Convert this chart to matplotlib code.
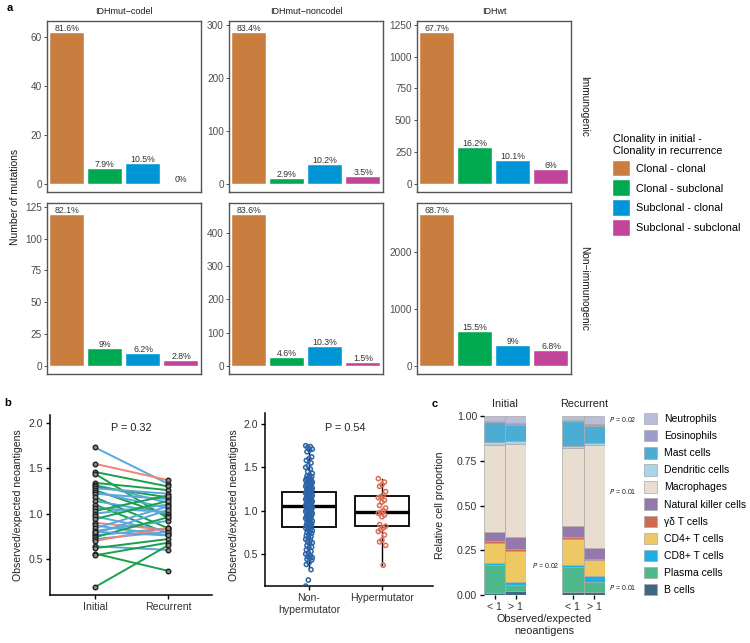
import matplotlib

matplotlib.use("Agg")
import matplotlib.pyplot as plt
from matplotlib.patches import Patch
import numpy as np

plt.rcParams["font.family"] = ["Liberation Sans", "DejaVu Sans"]

W, H = 750, 643

# ---- panel a: clonality of neoantigen mutations ----
SUBTYPES = ["IDHmut\u2212codel", "IDHmut\u2212noncodel", "IDHwt"]
ROW_LABELS = ["Immunogenic", "Non\u2212immunogenic"]
CLONALITY = ["Clonal - clonal", "Clonal - subclonal", "Subclonal - clonal", "Subclonal - subclonal"]
CLONALITY_COLORS = ["#C97E3F", "#00A84F", "#0096D6", "#C1439A"]

immuno_codel = [62, 6, 8, 0]
immuno_noncodel = [286, 10, 35, 12]
immuno_idhwt = [1190, 285, 178, 106]
nonimmuno_codel = [119, 13, 9, 4]
nonimmuno_noncodel = [455, 25, 56, 8]
nonimmuno_idhwt = [2660, 600, 348, 263]

yticks_a = [
    [[0, 20, 40, 60], [0, 100, 200, 300], [0, 250, 500, 750, 1000, 1250]],
    [[0, 25, 50, 75, 100, 125], [0, 100, 200, 300, 400], [0, 1000, 2000]],
]

# ---- panel b: observed/expected neoantigens ----
initial_ratio = [1.73, 1.55, 1.46, 1.44, 1.34, 1.32, 1.30, 1.28, 1.26, 1.24, 1.22, 1.18,
                 1.14, 1.10, 1.06, 1.03, 1.00, 0.97, 0.94, 0.90, 0.87, 0.84, 0.81, 0.78,
                 0.76, 0.74, 0.72, 0.70, 0.64, 0.62, 0.56, 0.54, 0.19, 0.80]
recurrent_ratio = [1.33, 1.37, 1.30, 0.95, 1.26, 1.12, 1.18, 1.22, 0.98, 1.06, 1.16, 0.84,
                   1.00, 0.78, 1.02, 1.20, 1.10, 0.80, 1.14, 0.82, 0.76, 1.08, 0.92, 1.04,
                   0.84, 0.96, 0.80, 0.84, 0.60, 0.72, 0.37, 0.68, 0.65, 0.76]
pair_group = ["b", "s", "g", "g", "g", "b", "g", "b", "g", "b", "b", "g",
              "b", "g", "b", "g", "b", "b", "g", "s", "b", "b", "b", "b",
              "b", "g", "b", "s", "b", "g", "g", "g", "g", "b"]
PAIR_COLORS = {"b": "#5BA6DC", "s": "#F08474", "g": "#19A049"}

nonhyper_ratio = [
    1.75, 1.74, 1.73, 1.71, 1.70, 1.68, 1.62, 1.60, 1.58, 1.55, 1.52, 1.50, 1.48, 1.45,
    1.43, 1.41, 1.40, 1.39, 1.38, 1.37, 1.36, 1.36, 1.35, 1.34, 1.34, 1.33, 1.32, 1.32,
    1.31, 1.30, 1.30, 1.29, 1.28, 1.28, 1.27, 1.26, 1.26, 1.25, 1.24, 1.24, 1.23, 1.22,
    1.22, 1.21, 1.20, 1.20, 1.19, 1.18, 1.18, 1.17, 1.16, 1.16, 1.15, 1.14, 1.14, 1.13,
    1.12, 1.12, 1.11, 1.10, 1.10, 1.09, 1.08, 1.08, 1.07, 1.06, 1.06, 1.05, 1.05, 1.04,
    1.03, 1.03, 1.02, 1.01, 1.01, 1.00, 0.99, 0.99, 0.98, 0.97, 0.97, 0.96, 0.95, 0.95,
    0.94, 0.93, 0.92, 0.92, 0.91, 0.90, 0.89, 0.88, 0.87, 0.86, 0.85, 0.84, 0.83, 0.82,
    0.81, 0.80, 0.79, 0.78, 0.77, 0.76, 0.75, 0.74, 0.72, 0.71, 0.70, 0.68, 0.67, 0.66,
    0.64, 0.63, 0.62, 0.60, 0.58, 0.57, 0.55, 0.53, 0.51, 0.50, 0.48, 0.47, 0.46, 0.45,
    0.44, 0.43, 0.40, 0.38, 0.32, 0.20, 0.13,
]
hyper_ratio = [1.37, 1.33, 1.30, 1.28, 1.22, 1.18, 1.16, 1.15, 1.12, 1.10, 1.06, 1.03, 1.00,
               0.98, 0.97, 0.95, 0.93, 0.84, 0.82, 0.80, 0.78, 0.76, 0.72, 0.66, 0.64, 0.60, 0.37]

box_groups = ["Non-\nhypermutator", "Hypermutator"]
box_q1 = [0.81, 0.82]
box_med = [1.05, 0.98]
box_q3 = [1.21, 1.17]
box_lo = [0.34, 0.37]
box_hi = [1.75, 1.37]

# ---- panel c: immune cell proportions (bottom to top) ----
CELL_TYPES = ["B cells", "Plasma cells", "CD8+ T cells", "CD4+ T cells", "\u03b3\u03b4 T cells",
              "Natural killer cells", "Macrophages", "Dendritic cells", "Mast cells",
              "Eosinophils", "Neutrophils"]
CELL_COLORS = ["#3F6882", "#4DB88C", "#1AAFE6", "#EDC863", "#D5694B", "#9479AA",
               "#E9DDD0", "#A8D5EA", "#4BADD3", "#9C9DCB", "#B9BDD8"]
initial_low = [0.010, 0.155, 0.015, 0.110, 0.010, 0.050, 0.490, 0.015, 0.110, 0.005, 0.030]
initial_high = [0.025, 0.030, 0.015, 0.175, 0.010, 0.070, 0.520, 0.015, 0.090, 0.010, 0.040]
recurrent_low = [0.015, 0.140, 0.015, 0.145, 0.010, 0.060, 0.435, 0.010, 0.140, 0.010, 0.020]
recurrent_high = [0.015, 0.060, 0.030, 0.090, 0.005, 0.065, 0.575, 0.010, 0.095, 0.010, 0.045]
ratio_bins = ["< 1", "> 1"]


def px_axes(fig, x0, y0, x1, y1):
    return fig.add_axes([x0 / W, 1 - y1 / H, (x1 - x0) / W, (y1 - y0) / H])


def fig_text(fig, x, y, s, **kw):
    return fig.text(x / W, 1 - y / H, s, **kw)


def pct_label(v, total):
    p = round(100 * v / total, 1)
    return f"{p:g}%"


def draw_panel_a(fig):
    counts = [[immuno_codel, immuno_noncodel, immuno_idhwt],
              [nonimmuno_codel, nonimmuno_noncodel, nonimmuno_idhwt]]
    cols = [(47, 201), (229, 383), (417, 571)]
    rows = [(21, 192), (203, 374)]
    x = np.arange(1, 5)
    for r, (y0, y1) in enumerate(rows):
        for c, (x0, x1) in enumerate(cols):
            ax = px_axes(fig, x0, y0, x1, y1)
            vals = counts[r][c]
            top = max(vals)
            ax.bar(x, vals, width=0.9, color=CLONALITY_COLORS, edgecolor="white", linewidth=0.3)
            total = sum(vals)
            for xi, v in zip(x, vals):
                ax.text(xi, v, pct_label(v, total), ha="center", va="bottom",
                        fontsize=6.3, color="#333333")
            ax.set_xlim(0.48, 4.52)
            ax.set_ylim(-0.054 * top, 1.076 * top)
            ax.set_xticks([])
            ax.set_yticks(yticks_a[r][c])
            ax.tick_params(axis="y", length=2.2, width=0.7, color="#4D4D4D",
                           labelsize=7.2, labelcolor="#4D4D4D", pad=1.5)
            for sp in ax.spines.values():
                sp.set_color("#555555")
                sp.set_linewidth(1.0)
            if r == 0:
                fig_text(fig, (x0 + x1) / 2, 12, SUBTYPES[c], ha="center", va="center",
                         fontsize=6.5, color="#1A1A1A")
        fig_text(fig, 584, (y0 + y1) / 2, ROW_LABELS[r], rotation=270, ha="center",
                 va="center", fontsize=7.3, color="#1A1A1A")
    fig_text(fig, 15, 197, "Number of mutations", rotation=90, ha="center", va="center",
             fontsize=7.5, color="#1A1A1A")
    handles = [Patch(facecolor=col, edgecolor="white", linewidth=0.3) for col in CLONALITY_COLORS]
    leg = fig.legend(handles, CLONALITY, title="Clonality in initial -\nClonality in recurrence",
                     loc="upper left", bbox_to_anchor=(613 / W, 1 - 134 / H), frameon=False,
                     fontsize=7.8, title_fontsize=7.8, alignment="left", borderpad=0,
                     borderaxespad=0, handlelength=1.6, handleheight=1.85, handletextpad=0.55,
                     labelspacing=0.38)
    leg.get_title().set_linespacing(1.3)


def style_classic(ax):
    for side in ["top", "right"]:
        ax.spines[side].set_visible(False)
    for side in ["left", "bottom"]:
        ax.spines[side].set_linewidth(1.1)
        ax.spines[side].set_color("black")
    ax.tick_params(length=3, width=1.0, labelsize=7.6, labelcolor="#333333", pad=2)


def draw_panel_b(fig):
    ax = px_axes(fig, 50, 415, 212, 595)
    for a, b, g in zip(initial_ratio, recurrent_ratio, pair_group):
        ax.plot([1, 2], [a, b], color=PAIR_COLORS[g], linewidth=1.4, zorder=2)
    ax.scatter(np.ones(len(initial_ratio)), initial_ratio, s=11, facecolor="#8A8A8A",
               edgecolor="#222222", linewidth=1.0, zorder=3)
    ax.scatter(np.full(len(recurrent_ratio), 2), recurrent_ratio, s=11, facecolor="#8A8A8A",
               edgecolor="#222222", linewidth=1.0, zorder=3)
    ax.set_xlim(0.384, 2.603)
    ax.set_ylim(0.103, 2.088)
    ax.set_xticks([1, 2])
    ax.set_xticklabels(["Initial", "Recurrent"])
    ax.set_yticks([0.5, 1.0, 1.5, 2.0])
    style_classic(ax)
    ax.text(1.5, 1.95, "P = 0.32", ha="center", va="center", fontsize=7.8, color="#222222")
    fig_text(fig, 18, 505, "Observed/expected neoantigens", rotation=90, ha="center",
             va="center", fontsize=7.6, color="#222222")

    ax2 = px_axes(fig, 265, 413, 433, 586)
    stats = [dict(q1=q1, med=m, q3=q3, whislo=lo, whishi=hi)
             for q1, m, q3, lo, hi in zip(box_q1, box_med, box_q3, box_lo, box_hi)]
    ax2.bxp(stats, positions=[1, 2], widths=0.75, showfliers=False, showcaps=False,
            patch_artist=True,
            boxprops=dict(facecolor="none", edgecolor="black", linewidth=1.3),
            medianprops=dict(color="black", linewidth=2.4),
            whiskerprops=dict(color="black", linewidth=1.0), zorder=1)
    jit_a = ((np.arange(len(nonhyper_ratio)) * 7) % 11 - 5) / 5 * 0.045
    jit_b = ((np.arange(len(hyper_ratio)) * 5) % 7 - 3) / 3 * 0.05
    ax2.scatter(1 + jit_a, nonhyper_ratio, s=9, facecolor="none", edgecolor="#2D63A7",
                linewidth=1.1, zorder=3)
    ax2.scatter(2 + jit_b, hyper_ratio, s=9, facecolor="none", edgecolor="#D96E55",
                linewidth=1.1, zorder=3)
    ax2.set_xlim(0.397, 2.699)
    ax2.set_ylim(0.131, 2.127)
    ax2.set_xticks([1, 2])
    ax2.set_xticklabels(box_groups)
    ax2.set_yticks([0.5, 1.0, 1.5, 2.0])
    style_classic(ax2)
    ax2.text(1.5, 1.95, "P = 0.54", ha="center", va="center", fontsize=7.8, color="#222222")
    fig_text(fig, 234, 505, "Observed/expected neoantigens", rotation=90, ha="center",
             va="center", fontsize=7.6, color="#222222")


def stacked(ax, columns):
    x = np.arange(len(columns))
    bottom = np.zeros(len(columns))
    for k in range(len(CELL_TYPES)):
        vals = np.array([col[k] for col in columns])
        ax.bar(x, vals, bottom=bottom, width=1.0, color=CELL_COLORS[k],
               edgecolor="#A9A9A9", linewidth=0.5)
        bottom += vals
    ax.set_xlim(-0.5, 1.5)
    ax.set_ylim(0, 1.0)
    ax.set_xticks(x)
    ax.set_xticklabels(ratio_bins)
    for sp in ax.spines.values():
        sp.set_visible(False)
    ax.tick_params(length=3, width=1.0, labelsize=7.6, labelcolor="#333333", pad=2)


def draw_panel_c(fig):
    ax = px_axes(fig, 484, 416, 526, 595)
    stacked(ax, [initial_low, initial_high])
    ax.set_yticks([0, 0.25, 0.5, 0.75, 1.0])
    ax.set_yticklabels(["0.00", "0.25", "0.50", "0.75", "1.00"])
    ax2 = px_axes(fig, 562, 416, 605, 595)
    stacked(ax2, [recurrent_low, recurrent_high])
    ax2.set_yticks([])
    fig_text(fig, 505, 404, "Initial", ha="center", va="center", fontsize=7.8, color="#222222")
    fig_text(fig, 584, 404, "Recurrent", ha="center", va="center", fontsize=7.8, color="#222222")
    fig_text(fig, 544, 625, "Observed/expected\nneoantigens", ha="center", va="center",
             fontsize=7.8, color="#222222", linespacing=1.15)
    fig_text(fig, 440, 505, "Relative cell proportion", rotation=90, ha="center",
             va="center", fontsize=7.6, color="#222222")
    for (x, y, s) in [(609, 420, "0.02"), (609, 492, "0.01"), (609, 587, "0.01"), (532, 566, "0.02")]:
        fig_text(fig, x, y, r"$\it{P}$ = " + s, ha="left", va="center", fontsize=5,
                 color="#222222")
    handles = [Patch(facecolor=col, edgecolor="#A9A9A9", linewidth=0.5) for col in CELL_COLORS]
    fig.legend(handles[::-1], CELL_TYPES[::-1], loc="upper left",
               bbox_to_anchor=(644 / W, 1 - 413 / H), frameon=False, fontsize=7.5,
               borderpad=0, borderaxespad=0, handlelength=1.25, handleheight=1.3,
               handletextpad=0.65, labelspacing=0.55)


def main() -> None:
    fig = plt.figure(figsize=(W / 100, H / 100), dpi=100)
    draw_panel_a(fig)
    draw_panel_b(fig)
    draw_panel_c(fig)
    fig_text(fig, 10, 8, "a", ha="center", va="center", fontsize=8, fontweight="bold")
    fig_text(fig, 8, 403, "b", ha="center", va="center", fontsize=8, fontweight="bold")
    fig_text(fig, 435, 404, "c", ha="center", va="center", fontsize=8, fontweight="bold")
    fig.savefig("out.png", dpi=100)
    plt.close(fig)


if __name__ == "__main__":
    main()
